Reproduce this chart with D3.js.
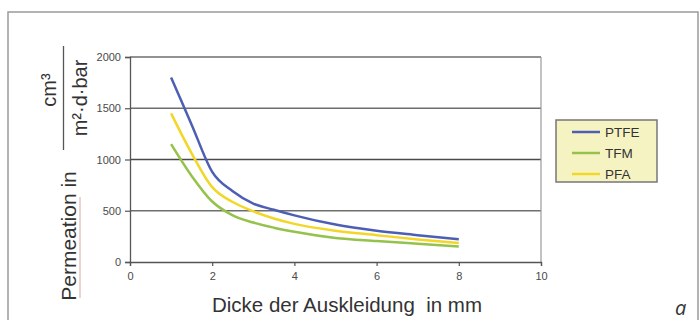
<!DOCTYPE html>
<html><head><meta charset="utf-8">
<script src="https://cdn.jsdelivr.net/npm/d3@7"></script>
<style>body{margin:0;background:#fff;}svg{display:block;font-family:"Liberation Sans",Arial,sans-serif;}</style>
</head><body>
<svg id="c" width="700" height="320"></svg>
<script>
const thickness = [1, 1.5, 2, 2.5, 3, 3.5, 4, 5, 6, 7, 8];
const ptfe = [1800, 1340, 880, 690, 570, 510, 455, 365, 305, 262, 222];
const tfm  = [1150, 840, 590, 455, 385, 335, 295, 235, 205, 178, 152];
const pfa  = [1450, 1060, 730, 585, 495, 425, 372, 305, 262, 220, 185];
const seriesNames = ["PTFE", "TFM", "PFA"];
const seriesColors = ["#4d5fb3", "#95c24a", "#f3d726"];
const xTicks = [0, 2, 4, 6, 8, 10];
const yTicks = [0, 500, 1000, 1500, 2000];

const svg = d3.select("#c");
// outer frame
svg.append("rect").attr("x", 8).attr("y", 12).attr("width", 690).attr("height", 320)
  .attr("fill", "none").attr("stroke", "#9a9a9a").attr("stroke-width", 1.5);

const x = d3.scaleLinear().domain([0, 10]).range([130, 541]);
const y = d3.scaleLinear().domain([0, 2000]).range([262, 57]);

// gridlines
svg.append("g").selectAll("line").data(yTicks.filter(d => d > 0)).join("line")
  .attr("x1", x(0)).attr("x2", x(10)).attr("y1", d => y(d)).attr("y2", d => y(d))
  .attr("stroke", d => d === 1000 ? "#4a4a4a" : "#6e6e6e").attr("stroke-width", 1.5);
// right border
svg.append("line").attr("x1", x(10)).attr("x2", x(10)).attr("y1", y(2000)).attr("y2", y(0))
  .attr("stroke", "#9a9a9a").attr("stroke-width", 1.2);

// axes
const yAxis = d3.axisLeft(y).tickValues(yTicks).tickFormat(d3.format("d")).tickSize(5).tickPadding(4);
const gy = svg.append("g").attr("transform", `translate(${x(0)},0)`).call(yAxis);
const xAxis = d3.axisBottom(x).tickValues(xTicks).tickFormat(d3.format("d")).tickSize(4).tickPadding(6);
const gx = svg.append("g").attr("transform", `translate(0,${y(0)})`).call(xAxis);
[gy, gx].forEach(g => {
  g.select(".domain").attr("stroke", "#555").attr("stroke-width", 1.3);
  g.selectAll(".tick line").attr("stroke", "#555").attr("stroke-width", 1.2);
  g.selectAll(".tick text").attr("fill", "#4a4a4a").style("font-size", "11px")
    .style("font-family", "Liberation Sans, Arial, sans-serif");
});

// lines
const data = [ptfe, tfm, pfa];
const line = d3.line().x((d, i) => x(thickness[i])).y(d => y(d)).curve(d3.curveMonotoneX);
svg.append("g").selectAll("path").data(data).join("path")
  .attr("d", d => line(d)).attr("fill", "none")
  .attr("stroke", (d, i) => seriesColors[i]).attr("stroke-width", 2.5);

// legend
const lg = svg.append("g");
lg.append("rect").attr("x", 556).attr("y", 120).attr("width", 101).attr("height", 62)
  .attr("fill", "#f6f3c3").attr("stroke", "#777").attr("stroke-width", 1.5);
seriesNames.forEach((n, i) => {
  const yy = 132 + i * 21;
  lg.append("line").attr("x1", 572).attr("x2", 600).attr("y1", yy).attr("y2", yy)
    .attr("stroke", seriesColors[i]).attr("stroke-width", 2.5);
  lg.append("text").attr("x", 605).attr("y", yy + 5).text(n)
    .attr("fill", "#333").style("font-size", "13.5px");
});

// y title
svg.append("text").attr("transform", "translate(76,236) rotate(-90)")
  .attr("text-anchor", "middle").attr("fill", "#333").style("font-size", "21px")
  .text("Permeation in");
// underline for "Permeation"
svg.append("line").attr("x1", 80).attr("x2", 80).attr("y1", 298).attr("y2", 197)
  .attr("stroke", "#d8a8a0").attr("stroke-width", 1);
// fraction
svg.append("text").attr("transform", "translate(56,90) rotate(-90)")
  .attr("text-anchor", "middle").attr("fill", "#333").style("font-size", "20px")
  .text("cm³");
svg.append("line").attr("x1", 63.5).attr("x2", 63.5).attr("y1", 46).attr("y2", 150)
  .attr("stroke", "#555").attr("stroke-width", 1.3);
svg.append("text").attr("transform", "translate(87,98) rotate(-90)")
  .attr("text-anchor", "middle").attr("fill", "#333").style("font-size", "20px")
  .text("m²·d·bar");

// x title
svg.append("text").attr("x", 347).attr("y", 312).attr("text-anchor", "middle")
  .attr("fill", "#333").style("font-size", "20.5px").text("Dicke der Auskleidung  in mm")
  .attr("xml:space", "preserve").style("white-space", "pre");

// panel letter
svg.append("text").attr("x", 675).attr("y", 315).attr("fill", "#333")
  .style("font-size", "20px").style("font-style", "italic")
  .style("font-family", "Open Sans, sans-serif").text("a");
</script>
</body></html>
